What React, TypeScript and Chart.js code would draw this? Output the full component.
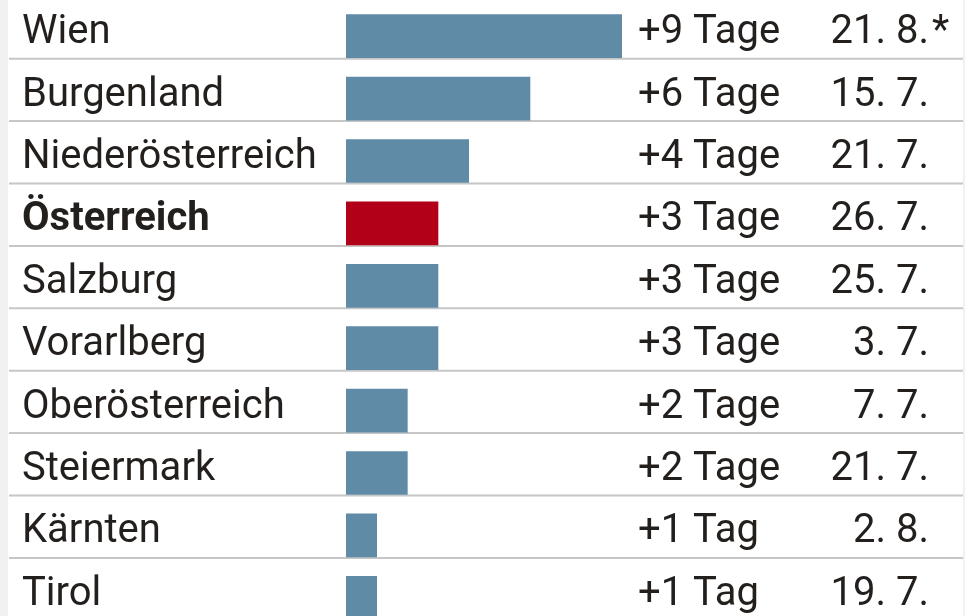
import React, { useEffect, useRef } from "react";
import { Chart, registerables } from "chart.js";

Chart.register(...registerables);

// ---- data ----
const regions = [
  "Wien",
  "Burgenland",
  "Niederösterreich",
  "Österreich",
  "Salzburg",
  "Vorarlberg",
  "Oberösterreich",
  "Steiermark",
  "Kärnten",
  "Tirol",
];
const extraDays = [9, 6, 4, 3, 3, 3, 2, 2, 1, 1];
const dayLabels = [
  "+9 Tage",
  "+6 Tage",
  "+4 Tage",
  "+3 Tage",
  "+3 Tage",
  "+3 Tage",
  "+2 Tage",
  "+2 Tage",
  "+1 Tag",
  "+1 Tag",
];
const dateLabels = [
  "21. 8.",
  "15. 7.",
  "21. 7.",
  "26. 7.",
  "25. 7.",
  "3. 7.",
  "7. 7.",
  "21. 7.",
  "2. 8.",
  "19. 7.",
];
const footnotes = ["*", "", "", "", "", "", "", "", "", ""];
const highlightRegion = "Österreich";

// ---- styles ----
const BLUE = "#5f8ba7";
const RED = "#b30019";
const TEXT = "#231f1d";
const LINE = "#c6c6c6";
const FONT = "Roboto";
const FONT_SIZE = 40;
const BAR_THICK = 43;
const LABEL_OFFSET = -3;

const noPad = (s: any) => {
  s.paddingTop = 0;
  s.paddingBottom = 0;
};

export default function App() {
  const ref = useRef<HTMLCanvasElement | null>(null);

  useEffect(() => {
    if (!ref.current) return;
    const hi = regions.indexOf(highlightRegion);

    const rowPlugin = {
      id: "rowLines",
      beforeDatasetsDraw(chart: any) {
        const { ctx } = chart;
        const y = chart.scales.y;
        ctx.save();
        ctx.strokeStyle = LINE;
        ctx.lineWidth = 2;
        regions.forEach((_, i) => {
          const yy = y.getPixelForValue(i) + BAR_THICK / 2 + 1;
          ctx.beginPath();
          ctx.moveTo(1, yy);
          ctx.lineTo(chart.width, yy);
          ctx.stroke();
        });
        ctx.restore();
      },
      afterDraw(chart: any) {
        const { ctx } = chart;
        const s = chart.scales.y3;
        ctx.save();
        ctx.fillStyle = TEXT;
        ctx.font = `${FONT_SIZE}px ${FONT}`;
        ctx.textAlign = "left";
        ctx.textBaseline = "middle";
        footnotes.forEach((f, i) => {
          if (!f) return;
          ctx.fillText(f, s.right + 3, s.getPixelForTick(i) + LABEL_OFFSET);
        });
        ctx.restore();
      },
    };

    const tickFont = (c: any) => ({
      family: FONT,
      size: FONT_SIZE,
      weight: c.index === hi ? "bold" : "normal",
    });

    const chart = new Chart(ref.current, {
      type: "bar",
      data: {
        labels: regions,
        datasets: [
          {
            data: extraDays,
            backgroundColor: regions.map((_, i) => (i === hi ? RED : BLUE)),
            barThickness: BAR_THICK,
            borderWidth: 0,
          },
        ],
      },
      options: {
        indexAxis: "y",
        animation: false,
        responsive: false,
        events: [],
        layout: { padding: { left: 14, right: 34, top: 0, bottom: 0 } },
        plugins: {
          legend: { display: false },
          tooltip: { enabled: false },
          title: { display: false },
        },
        scales: {
          x: { type: "linear", min: 0, max: 9, display: false },
          y: {
            type: "category",
            position: "left",
            offset: true,
            grid: { display: false, drawTicks: false },
            border: { display: false },
            ticks: {
              autoSkip: false,
              crossAlign: "far",
              labelOffset: LABEL_OFFSET,
              color: TEXT,
              font: tickFont,
            },
            afterFit(s: any) {
              s.width = 324;
              noPad(s);
            },
          },
          y2: {
            type: "category",
            axis: "y",
            position: "right",
            weight: 0,
            labels: dayLabels,
            offset: true,
            grid: { display: false, drawTicks: false },
            border: { display: false },
            ticks: {
              autoSkip: false,
              crossAlign: "near",
              padding: 16,
              labelOffset: LABEL_OFFSET,
              color: TEXT,
              font: { family: FONT, size: FONT_SIZE },
            },
            afterFit(s: any) {
              s.width = 180;
              noPad(s);
            },
          },
          y3: {
            type: "category",
            axis: "y",
            position: "right",
            weight: 1,
            labels: dateLabels,
            offset: true,
            grid: { display: false, drawTicks: false },
            border: { display: false },
            ticks: {
              autoSkip: false,
              crossAlign: "far",
              labelOffset: LABEL_OFFSET,
              color: TEXT,
              font: { family: FONT, size: FONT_SIZE },
            },
            afterFit(s: any) {
              s.width = 127;
              noPad(s);
            },
          },
        },
      } as any,
      plugins: [rowPlugin],
    });
    return () => chart.destroy();
  }, []);

  return (
    <div style={{ position: "fixed", inset: 0, background: "#f1f1f1" }}>
      <div
        style={{
          position: "absolute",
          left: 8,
          top: 0,
          width: 955,
          height: 616,
          background: "#ffffff",
          overflow: "hidden",
        }}
      >
        <canvas
          ref={ref}
          width={955}
          height={624}
          style={{ display: "block", marginTop: 5 }}
        />
      </div>
    </div>
  );
}
